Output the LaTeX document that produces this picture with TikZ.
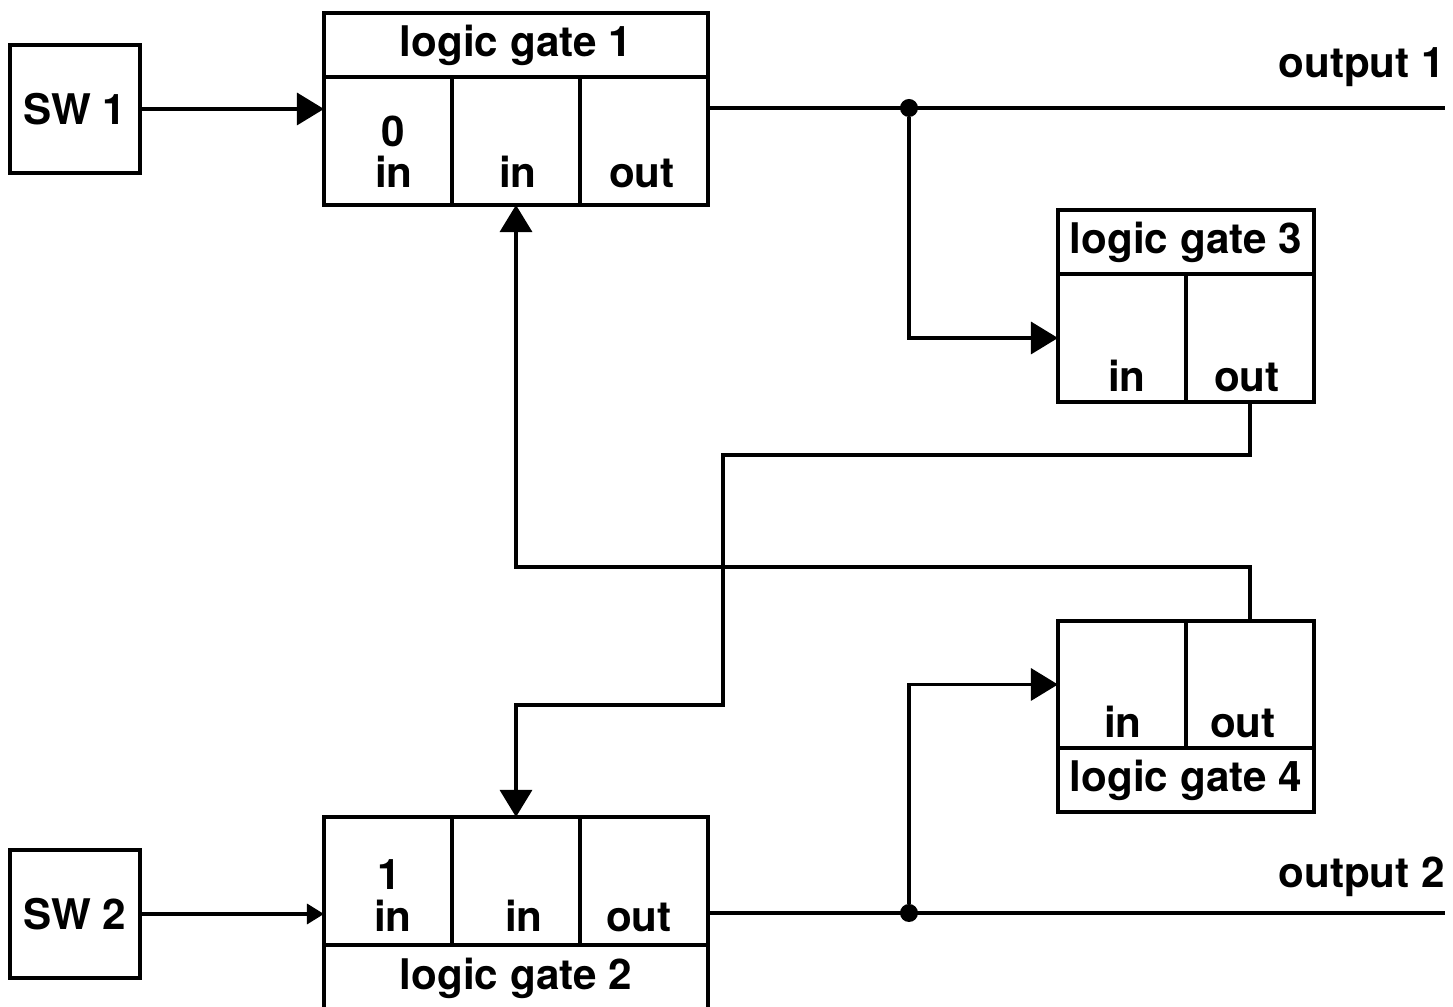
\documentclass[tikz,border=0pt]{standalone}
\usepackage{fontspec}
\setmainfont{TeX Gyre Heros}
\usetikzlibrary{arrows.meta}

\begin{document}
\begin{tikzpicture}[x=0.01cm, y=-0.01cm, line width=0.95pt]
\tikzstyle{every node} = [font=\bfseries\fontsize{12}{12}\selectfont, inner sep=0cm, outer sep=0cm]
\tikzstyle{cell} = [draw, rectangle, minimum width=1.28cm, minimum height=1.28cm]
\tikzstyle{bar} = [draw, rectangle, minimum height=0.64cm]
\tikzstyle{lbl} = [anchor=base]
\tikzstyle{dot} = [circle, fill=black, minimum size=0.18cm]
\tikzstyle{wire} = [-{Triangle[length=0.27cm, width=0.32cm]}]
\tikzstyle{short wire} = [-{Triangle[length=0.17cm, width=0.2cm]}]
\useasboundingbox (0,0) rectangle (1453,1007);
\node[cell, minimum width=1.30cm] (sw1) at (75,109) {SW 1};
\node[cell, minimum width=1.30cm] (sw2) at (75,914) {SW 2};
\node[bar, minimum width=3.84cm] (g1head) at (516,45) {logic gate 1};
\node[cell] (g1a) at (388,141) {};
\node[cell] (g1b) at (516,141) {};
\node[cell] (g1c) at (644,141) {};
\node[cell] (g2a) at (388,881) {};
\node[cell] (g2b) at (516,881) {};
\node[cell] (g2c) at (644,881) {};
\node[bar, minimum width=3.84cm, minimum height=0.66cm] (g2foot) at (516,978) {logic gate 2};
\node[bar, minimum width=2.56cm] (g3head) at (1186,242) {logic gate 3};
\node[cell] (g3a) at (1122,338) {};
\node[cell] (g3b) at (1250,338) {};
\node[cell, minimum height=1.27cm] (g4a) at (1122,684.5) {};
\node[cell, minimum height=1.27cm] (g4b) at (1250,684.5) {};
\node[bar, minimum width=2.56cm] (g4foot) at (1186,780) {logic gate 4};
\node[lbl] (g1zero) at (393,147) {0};
\node[lbl] (g1ina) at (394,188) {in};
\node[lbl] (g1inb) at (518,188) {in};
\node[lbl] (g1out) at (642,188) {out};
\node[lbl] (g2one) at (389,890) {1};
\node[lbl] (g2ina) at (393,932) {in};
\node[lbl] (g2inb) at (524,932) {in};
\node[lbl] (g2out) at (639,932) {out};
\node[lbl] (g3in) at (1127,392) {in};
\node[lbl] (g3out) at (1247,392) {out};
\node[lbl] (g4in) at (1123,738) {in};
\node[lbl] (g4out) at (1243,738) {out};
\node[anchor=base east] (out1) at (1445,78) {output 1};
\node[anchor=base east] (out2) at (1445,888) {output 2};
\coordinate (o1) at (1445,108);
\coordinate (o2) at (1445,913);
\node[dot] (j1) at (909,108) {};
\node[dot] (j2) at (909,913) {};
\draw[wire] (sw1.east) -- (sw1.east -| g1a.west);
\draw[short wire] (sw2.east) -- (sw2.east -| g2a.west);
\draw (g1c.east |- o1) -- (o1);
\draw (g2c.east |- o2) -- (o2);
\draw[wire] (j1) |- (g3a.west);
\draw[wire] (j2) |- (g4a.west);
\draw[wire] (g3b.south) -- ++(0,53) -| (723,705) -| (g2b.north);
\draw[wire] (g4b.north) -- ++(0,-54) -| (g1b.south);
\end{tikzpicture}
\end{document}
